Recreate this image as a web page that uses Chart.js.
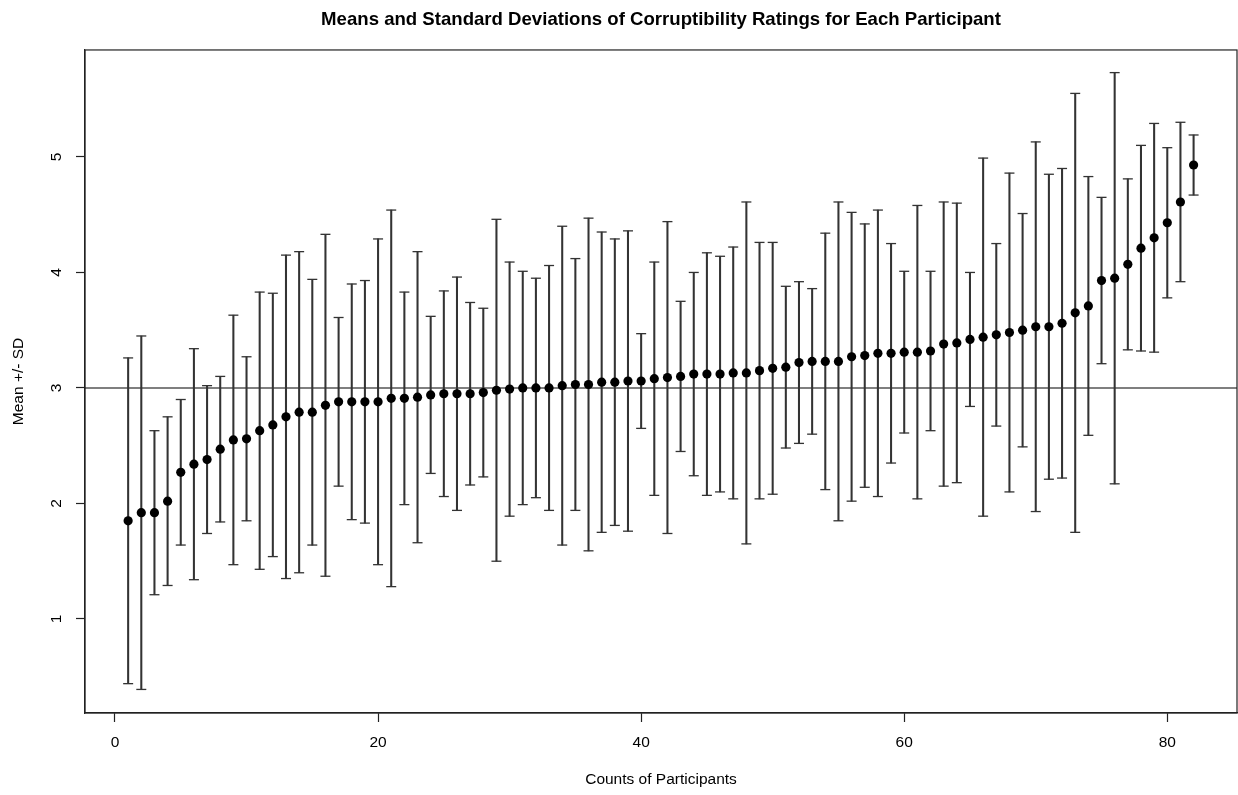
<!DOCTYPE html>
<html>
<head>
<meta charset="utf-8">
<title>Corruptibility Ratings</title>
<script src="https://cdn.jsdelivr.net/npm/chart.js@4/dist/chart.umd.min.js"></script>
<style>
  html, body { margin: 0; padding: 0; background: #ffffff; }
  #wrap { width: 1238px; height: 795px; }
</style>
</head>
<body>
<div id="wrap"><canvas id="sdChart" width="1238" height="795"></canvas></div>
<script>
// participant means, sorted ascending
const means = [
  1.85, 1.92, 1.92, 2.02, 2.27, 2.34, 2.38, 2.47, 2.55, 2.56,
  2.63, 2.68, 2.75, 2.79, 2.79, 2.85, 2.88, 2.88, 2.88, 2.88,
  2.91, 2.91, 2.92, 2.94, 2.95, 2.95, 2.95, 2.96, 2.98, 2.99,
  3.00, 3.00, 3.00, 3.02, 3.03, 3.03, 3.05, 3.05, 3.06, 3.06,
  3.08, 3.09, 3.10, 3.12, 3.12, 3.12, 3.13, 3.13, 3.15, 3.17,
  3.18, 3.22, 3.23, 3.23, 3.23, 3.27, 3.28, 3.30, 3.30, 3.31,
  3.31, 3.32, 3.38, 3.39, 3.42, 3.44, 3.46, 3.48, 3.50, 3.53,
  3.53, 3.56, 3.65, 3.71, 3.93, 3.95, 4.07, 4.21, 4.30, 4.43,
  4.61, 4.93
];

// standard deviation for each participant
const sds = [
  1.41, 1.53, 0.71, 0.73, 0.63, 1.00, 0.64, 0.63, 1.08, 0.71,
  1.20, 1.14, 1.40, 1.39, 1.15, 1.48, 0.73, 1.02, 1.05, 1.41,
  1.63, 0.92, 1.26, 0.68, 0.89, 1.01, 0.79, 0.73, 1.48, 1.10,
  1.01, 0.95, 1.06, 1.38, 1.09, 1.44, 1.30, 1.24, 1.30, 0.41,
  1.01, 1.35, 0.65, 0.88, 1.05, 1.02, 1.09, 1.48, 1.11, 1.09,
  0.70, 0.70, 0.63, 1.11, 1.38, 1.25, 1.14, 1.24, 0.95, 0.70,
  1.27, 0.69, 1.23, 1.21, 0.58, 1.55, 0.79, 1.38, 1.01, 1.60,
  1.32, 1.34, 1.90, 1.12, 0.72, 1.78, 0.74, 0.89, 0.99, 0.65,
  0.69, 0.26
];

const xTicks = [0, 20, 40, 60, 80];
const yTicks = [1, 2, 3, 4, 5];
const refLine = 3;

const fontFamily = '"Liberation Sans", Arial, Helvetica, sans-serif';

const meanPoints = means.map((m, i) => ({ x: i + 1, y: m }));
const whiskers = means.map((m, i) => ({ x: i + 1, y: [m - sds[i], m + sds[i]] }));
const caps = [];
means.forEach((m, i) =>
{
  caps.push({ x: i + 1, y: m + sds[i] });
  caps.push({ x: i + 1, y: m - sds[i] });
});

const boxPlugin =
{
  id: 'plotBox',
  afterDraw(chart)
  {
    const a = chart.chartArea;
    const ctx = chart.ctx;
    ctx.save();
    ctx.strokeStyle = '#222222';
    ctx.lineWidth = 1.2;
    ctx.strokeRect(a.left, a.top, a.right - a.left, a.bottom - a.top);
    ctx.restore();
  }
};

let ctx = document.getElementById('sdChart').getContext('2d');

const sdChart = new Chart(ctx,
  {
    type: 'scatter',
    data:
    {
      datasets:
        [
          {
            type: 'scatter',
            data: meanPoints,
            pointStyle: 'circle',
            pointRadius: 4.6,
            backgroundColor: '#000000',
            borderColor: '#000000',
            borderWidth: 0,
            order: 0
          },
          {
            type: 'scatter',
            data: caps,
            pointStyle: 'line',
            pointRadius: 5,
            borderColor: '#333333',
            borderWidth: 1.3,
            order: 1
          },
          {
            type: 'bar',
            data: whiskers,
            barThickness: 1.4,
            backgroundColor: '#333333',
            borderWidth: 0,
            order: 2
          },
          {
            type: 'line',
            data: [{ x: -2.28, y: refLine }, { x: 85.3, y: refLine }],
            borderColor: '#000000',
            borderWidth: 1.1,
            pointRadius: 0,
            order: 3
          }
        ]
    },
    options:
    {
      responsive: false,
      animation: false,
      layout:
      {
        autoPadding: false,
        padding: { left: 0, right: 1, top: 0, bottom: 0 }
      },
      scales:
      {
        x:
        {
          type: 'linear',
          min: -2.28,
          max: 85.3,
          offset: false,
          afterBuildTicks: scale => { scale.ticks = xTicks.map(v => ({ value: v })); },
          afterFit: scale => { scale.height = 82; },
          grid:
          {
            offset: false,
            drawOnChartArea: false,
            drawTicks: true,
            tickLength: 9,
            tickColor: '#222222',
            tickWidth: 1.2
          },
          border: { display: true, color: '#222222', width: 1.2 },
          ticks:
          {
            padding: 11.5,
            color: '#000000',
            maxRotation: 0,
            minRotation: 0,
            autoSkip: false,
            font: { family: fontFamily, size: 15.5 }
          },
          title:
          {
            display: true,
            text: 'Counts of Participants',
            color: '#000000',
            padding: { top: 0, bottom: 5.7 },
            font: { family: fontFamily, size: 15.5 }
          }
        },
        y:
        {
          type: 'linear',
          min: 0.186,
          max: 5.926,
          afterBuildTicks: scale => { scale.ticks = yTicks.map(v => ({ value: v })); },
          afterFit: scale => { scale.width = 85; },
          grid:
          {
            drawOnChartArea: false,
            drawTicks: true,
            tickLength: 9,
            tickColor: '#222222',
            tickWidth: 1.2
          },
          border: { display: true, color: '#222222', width: 1.2 },
          ticks:
          {
            padding: 14.7,
            color: '#000000',
            minRotation: 90,
            maxRotation: 90,
            crossAlign: 'center',
            autoSkip: false,
            font: { family: fontFamily, size: 15.5 }
          },
          title:
          {
            display: true,
            text: 'Mean +/- SD',
            color: '#000000',
            padding: { top: 9.7, bottom: 0 },
            font: { family: fontFamily, size: 15.5 }
          }
        }
      },
      plugins:
      {
        legend: { display: false },
        tooltip: { enabled: false },
        title:
        {
          display: true,
          fullSize: false,
          text: 'Means and Standard Deviations of Corruptibility Ratings for Each Participant',
          color: '#000000',
          padding: { top: 8.85, bottom: 18.8 },
          font: { family: fontFamily, size: 18.6, weight: 'bold' }
        }
      }
    },
    plugins: [boxPlugin]
  });
</script>
</body>
</html>
